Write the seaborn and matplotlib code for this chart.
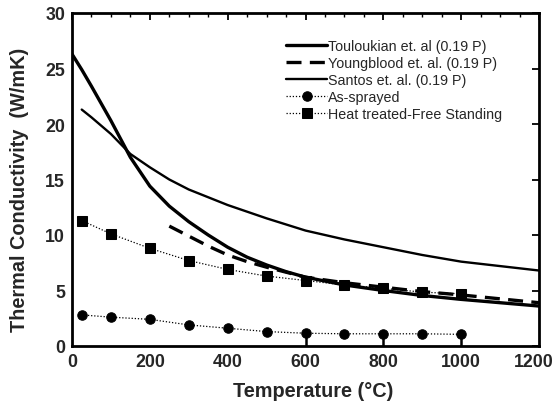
import matplotlib
matplotlib.use("Agg")
import matplotlib.pyplot as plt
import matplotlib.transforms as mtransforms
import seaborn as sns
from matplotlib.ticker import MultipleLocator

# ---- data ----
toul_T = [0, 25, 50, 100, 150, 200, 250, 300, 350, 400, 450, 500, 550, 600, 700, 800, 900, 1000, 1100, 1200]
toul_k = [26.3, 24.9, 23.4, 20.3, 17.0, 14.4, 12.6, 11.2, 10.0, 8.9, 8.0, 7.3, 6.7, 6.2, 5.5, 5.0, 4.55, 4.2, 3.9, 3.6]

young_T = [250, 300, 350, 400, 450, 500, 600, 700, 800, 900, 1000, 1100, 1200]
young_k = [10.8, 9.9, 9.0, 8.2, 7.6, 7.1, 6.2, 5.7, 5.3, 4.9, 4.6, 4.25, 3.9]

santos_T = [25, 50, 100, 150, 200, 250, 300, 400, 500, 600, 700, 800, 900, 1000, 1100, 1200]
santos_k = [21.3, 20.6, 19.1, 17.3, 16.1, 15.0, 14.1, 12.7, 11.5, 10.4, 9.6, 8.9, 8.2, 7.6, 7.2, 6.8]

exp_T = [25, 100, 200, 300, 400, 500, 600, 700, 800, 900, 1000]
sprayed_k = [2.8, 2.6, 2.4, 1.9, 1.6, 1.3, 1.15, 1.1, 1.1, 1.1, 1.05]
heat_k = [11.3, 10.1, 8.8, 7.7, 6.9, 6.3, 5.9, 5.5, 5.2, 4.85, 4.7]

err_T = [600, 800, 1000]
err_k = [1.15, 1.1, 1.05]

labels = ["Touloukian et. al (0.19 P)", "Youngblood et. al. (0.19 P)",
          "Santos et. al. (0.19 P)", "As-sprayed", "Heat treated-Free Standing"]
x_ticks = [0, 200, 400, 600, 800, 1000, 1200]
y_ticks = [0, 5, 10, 15, 20, 25, 30]

sns.set_theme(style="white")
plt.rcParams['font.family'] = ['Liberation Sans', 'DejaVu Sans']

fig = plt.figure(figsize=(5.57, 4.06), dpi=100)
ax = fig.add_axes([72/557, 1-347/406, 467/557, 333/406])

sns.lineplot(x=toul_T, y=toul_k, ax=ax, color="black", lw=2.4, label=labels[0], sort=False)
sns.lineplot(x=young_T, y=young_k, ax=ax, color="black", lw=2.4, label=labels[1], sort=False)
ax.lines[-1].set_dashes((4.5, 2.5))
sns.lineplot(x=santos_T, y=santos_k, ax=ax, color="black", lw=1.7, label=labels[2], sort=False)
ax.vlines(err_T, 0, err_k, colors="black", linewidths=1.8, zorder=2.5)
sns.lineplot(x=exp_T, y=sprayed_k, ax=ax, color="black", lw=0.9, ls=(0, (1, 1.5)),
             marker="o", markersize=6.8, markeredgecolor="black", label=labels[3], sort=False,
             zorder=4)
sns.lineplot(x=exp_T, y=heat_k, ax=ax, color="black", lw=0.9, ls=(0, (1, 1.5)),
             marker="s", markersize=7, markeredgecolor="black", label=labels[4], sort=False,
             zorder=4)

ax.set_xlim(0, 1200)
ax.set_ylim(0, 30)
ax.set_xticks(x_ticks)
ax.set_yticks(y_ticks)
ax.xaxis.set_minor_locator(MultipleLocator(50))
ax.tick_params(which="both", direction="in", top=True, right=True, color="black")
ax.tick_params(which="major", length=5, width=1.3, labelsize=12.8, pad=5)
ax.tick_params(which="minor", length=3, width=1.0)
for lab in ax.get_xticklabels() + ax.get_yticklabels():
    lab.set_fontweight("bold")
last = ax.get_xticklabels()[-1]
last.set_transform(last.get_transform() +
                   mtransforms.ScaledTranslation(-4 / 72, 0, fig.dpi_scale_trans))
for s in ax.spines.values():
    s.set_color("black")
    s.set_linewidth(2.0)

ax.set_xlabel("Temperature (°C)", fontsize=14.3, fontweight="bold")
ax.set_ylabel("Thermal Conductivity  (W/mK)", fontsize=14.3, fontweight="bold")
ax.xaxis.set_label_coords(0.516, -0.105)
ax.yaxis.set_label_coords(-0.093, 0.471)

leg = ax.legend(loc="upper left", bbox_to_anchor=(0.458, 0.921), frameon=False,
                fontsize=10.3, handlelength=2.9, handletextpad=0.05, labelspacing=0.2,
                borderaxespad=0.0, borderpad=0.0)

fig.savefig("out.png", dpi=100)
